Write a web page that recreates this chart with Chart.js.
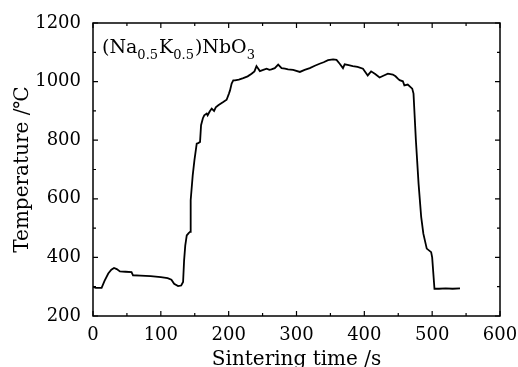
<!DOCTYPE html>
<html>
<head>
<meta charset="utf-8">
<script src="https://cdn.jsdelivr.net/npm/chart.js@4.4.1/dist/chart.umd.min.js"></script>
<style>
  html, body { margin: 0; padding: 0; background: #fff; }
  #wrap { width: 518px; height: 367px; position: relative; }
</style>
</head>
<body>
<div id="wrap"><canvas id="tempChart"></canvas></div>
<script>
// sintering time (s) and temperature (°C)
const timeS = [0, 4, 12.7, 17, 22.5, 27, 31, 35, 39.7, 48, 56.8, 59, 70, 85, 100, 110, 115.6, 119.6, 125.4, 130, 132.8, 134.3,
  136, 138.2, 141, 143, 144, 147, 149.5, 152.9, 155, 157.8, 159.3, 162, 164, 167.6, 169, 172, 175, 178.5, 181, 184.7, 188, 192, 197,
  200.4, 202, 204.4, 206.8, 209.3, 215, 221.5, 228, 233.8, 238, 241, 246, 251, 256, 260, 263, 268, 273, 278, 283, 287.6, 295, 305,
  312, 319.6, 327, 334, 340, 346.5, 354, 359, 363.7, 368.5, 371, 377, 383, 390, 398, 405, 410, 416, 422.5, 428, 434.7, 442, 446,
  449.4, 452, 456.8, 459, 464, 470.6, 472.5, 476, 480, 483.8, 487, 492, 498.5, 500, 503.4, 510, 520, 530, 541];
const tempC = [300, 296, 296, 320, 345, 358, 364, 360, 352, 351, 350, 339, 338, 336, 333, 329, 324, 310, 302, 304, 316, 390,
  440, 475, 483, 487, 595, 680, 731, 788, 790, 794, 851, 875, 885, 891, 885, 898, 908, 900, 912, 919, 924, 930, 938,
  959, 970, 993, 1004, 1004, 1007, 1012, 1018, 1027, 1035, 1053, 1036, 1040, 1044, 1040, 1042, 1046, 1058, 1046, 1044, 1042, 1040, 1033,
  1040, 1046, 1054, 1061, 1066, 1073, 1076, 1074, 1061, 1046, 1059, 1056, 1053, 1050, 1044, 1021, 1035, 1026, 1014, 1020, 1027, 1024, 1018,
  1010, 1005, 1001, 987, 990, 976, 959, 800, 650, 538, 481, 430, 418, 400, 293, 293, 294, 293, 294];

const xMin = 0, xMax = 600, xMajor = 100, xMinor = 50;
const yMin = 200, yMax = 1200, yMajor = 200, yMinor = 100;

const serif = "'DejaVu Serif', 'Liberation Serif', serif";

// frame with inward ticks on all four sides, plus the formula label
const framePlugin = {
  id: "frame",
  afterDraw(chart) {
    const ctx = chart.ctx;
    const a = chart.chartArea;
    const xs = chart.scales.x, ys = chart.scales.y;
    ctx.save();
    ctx.strokeStyle = "#000";
    ctx.lineWidth = 1.5;
    ctx.strokeRect(a.left, a.top, a.right - a.left, a.bottom - a.top);
    ctx.lineWidth = 1.2;
    ctx.beginPath();
    for (let v = xMin; v <= xMax; v += xMinor) {
      const p = xs.getPixelForValue(v);
      const len = v % xMajor === 0 ? 5 : 3;
      ctx.moveTo(p, a.bottom); ctx.lineTo(p, a.bottom - len);
      ctx.moveTo(p, a.top); ctx.lineTo(p, a.top + len);
    }
    for (let v = yMin; v <= yMax; v += yMinor) {
      const p = ys.getPixelForValue(v);
      const len = v % yMajor === 0 ? 5 : 3;
      ctx.moveTo(a.left, p); ctx.lineTo(a.left + len, p);
      ctx.moveTo(a.right, p); ctx.lineTo(a.right - len, p);
    }
    ctx.stroke();

    // (Na0.5K0.5)NbO3
    const parts = [["(Na", 0], ["0.5", 1], ["K", 0], ["0.5", 1], [")NbO", 0], ["3", 1]];
    let x = a.left + 9, y = a.top + 30;
    ctx.fillStyle = "#000";
    ctx.textBaseline = "alphabetic";
    parts.forEach(([t, sub]) => {
      ctx.font = (sub ? "13px " : "19px ") + serif;
      ctx.fillText(t, x, sub ? y + 6 : y);
      x += ctx.measureText(t).width + (sub ? 1 : 0);
    });
    ctx.restore();
  }
};

new Chart(document.getElementById("tempChart"), {
  type: "line",
  data: {
    datasets: [{
      data: timeS.map((t, i) => ({ x: t, y: tempC[i] })),
      borderColor: "#000",
      borderWidth: 1.8,
      pointRadius: 0,
      tension: 0,
      fill: false
    }]
  },
  options: {
    responsive: true,
    maintainAspectRatio: false,
    animation: false,
    layout: { padding: { top: 23, right: 18, left: 0, bottom: 0 } },
    plugins: { legend: { display: false }, tooltip: { enabled: false } },
    scales: {
      x: {
        type: "linear",
        min: xMin, max: xMax,
        grid: { display: false, drawTicks: false },
        border: { display: false },
        ticks: { stepSize: xMajor, color: "#000", padding: 9, font: { family: serif, size: 18 },
          callback: v => String(v) },
        title: { display: true, text: "Sintering time /s", color: "#000", padding: { top: 0, bottom: -5 },
          font: { family: serif, size: 20 } },
        afterFit(s) { s.height = 51; s.paddingLeft = 0; s.paddingRight = 0; }
      },
      y: {
        min: yMin, max: yMax,
        grid: { display: false, drawTicks: false },
        border: { display: false },
        ticks: { stepSize: yMajor, color: "#000", padding: 12, font: { family: serif, size: 18 },
          callback: v => String(v) },
        title: { display: true, text: "Temperature /℃", color: "#000", padding: { top: 11, bottom: 0 },
          font: { family: serif, size: 20 } },
        afterFit(s) { s.width = 93; s.paddingTop = 0; s.paddingBottom = 0; }
      }
    }
  },
  plugins: [framePlugin]
});
</script>
</body>
</html>
